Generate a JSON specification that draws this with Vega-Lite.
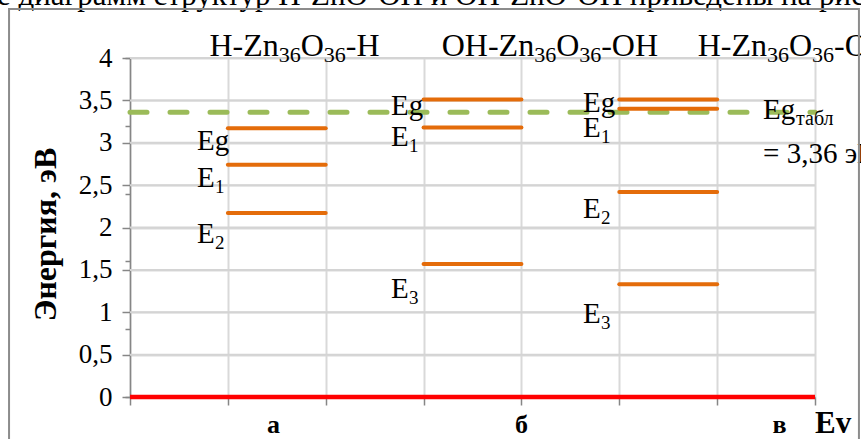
{
  "$schema": "https://vega.github.io/schema/vega-lite/v6.json",
  "width": 685,
  "height": 339,
  "autosize": {"type": "none"},
  "padding": {"left": 130, "top": 58, "right": 46, "bottom": 42},
  "background": "white",
  "config": {
    "view": {"stroke": null},
    "font": "Liberation Serif",
    "text": {"font": "Liberation Serif", "color": "black"}
  },
  "datasets": {
    "gridValues": [
      {"from": 0, "to": 7, "g": 0.5},
      {"from": 0, "to": 7, "g": 1},
      {"from": 0, "to": 7, "g": 1.5},
      {"from": 0, "to": 7, "g": 2},
      {"from": 0, "to": 7, "g": 2.5},
      {"from": 0, "to": 7, "g": 3},
      {"from": 0, "to": 7, "g": 3.5},
      {"from": 0, "to": 7, "g": 4}
    ],
    "levels": [
      {"sys": "а", "lvl": "Eg", "x0": 1, "x1": 2, "e": 3.17},
      {"sys": "а", "lvl": "E1", "x0": 1, "x1": 2, "e": 2.74},
      {"sys": "а", "lvl": "E2", "x0": 1, "x1": 2, "e": 2.17},
      {"sys": "б", "lvl": "Eg", "x0": 3, "x1": 4, "e": 3.51},
      {"sys": "б", "lvl": "E1", "x0": 3, "x1": 4, "e": 3.18},
      {"sys": "б", "lvl": "E3", "x0": 3, "x1": 4, "e": 1.57},
      {"sys": "в", "lvl": "Eg", "x0": 5, "x1": 6, "e": 3.51},
      {"sys": "в", "lvl": "E1", "x0": 5, "x1": 6, "e": 3.40},
      {"sys": "в", "lvl": "E2", "x0": 5, "x1": 6, "e": 2.42},
      {"sys": "в", "lvl": "E3", "x0": 5, "x1": 6, "e": 1.33}
    ],
    "levelLabels": [
      {"base": "Eg", "sub": "", "lx": 0.685, "ly": 2.914},
      {"base": "E", "sub": "1", "lx": 0.685, "ly": 2.481},
      {"base": "E", "sub": "2", "lx": 0.685, "ly": 1.814},
      {"base": "Eg", "sub": "", "lx": 2.667, "ly": 3.327},
      {"base": "E", "sub": "1", "lx": 2.667, "ly": 2.962},
      {"base": "E", "sub": "3", "lx": 2.667, "ly": 1.168},
      {"base": "Eg", "sub": "", "lx": 4.63, "ly": 3.366},
      {"base": "E", "sub": "1", "lx": 4.63, "ly": 3.071},
      {"base": "E", "sub": "2", "lx": 4.63, "ly": 2.109},
      {"base": "E", "sub": "3", "lx": 4.63, "ly": 0.87}
    ],
    "formulas": [
      {"head": "H-Zn", "tail": "-H", "fx": 1.52, "fy": 4.024},
      {"head": "OH-Zn", "tail": "-OH", "fx": 4.13, "fy": 4.024},
      {"head": "H-Zn", "tail": "-OH", "fx": 6.51, "fy": 4.024}
    ],
    "categories": [
      {"cat": "а", "cx": 1.467},
      {"cat": "б", "cx": 4.0},
      {"cat": "в", "cx": 6.637}
    ],
    "reference": [
      {"name": "Eg", "sub": "табл", "value": 3.36, "note": "= 3,36 эВ", "rx": 6.469, "ry": 3.28, "ny": 2.761}
    ]
  },
  "resolve": {"axis": {"y": "independent"}},
  "layer": [
    {
      "data": {"name": "gridValues"},
      "mark": {"type": "rule", "color": "#d4d4d4", "strokeWidth": 2},
      "encoding": {
        "x": {
          "field": "from",
          "type": "quantitative",
          "scale": {"domain": [0, 7], "nice": false, "zero": false},
          "axis": {
            "title": null,
            "values": [0, 1, 2, 3, 4, 5, 6, 7],
            "labels": false,
            "grid": true,
            "gridColor": "#d9d9d9",
            "gridWidth": 2,
            "tickSize": 8,
            "tickColor": "#868686",
            "tickWidth": 1.5,
            "domainColor": "#868686",
            "domainWidth": 1.5
          }
        },
        "x2": {"field": "to"},
        "y": {
          "field": "g",
          "type": "quantitative",
          "scale": {"domain": [0, 4], "nice": false},
          "axis": {
            "orient": "left",
            "title": "Энергия, эВ",
            "values": [0, 0.5, 1, 1.5, 2, 2.5, 3, 3.5, 4],
            "grid": true,
            "gridColor": "#d9d9d9",
            "gridWidth": 2,
            "tickSize": 8,
            "tickColor": "#868686",
            "tickWidth": 1.5,
            "domainColor": "#868686",
            "domainWidth": 1.5,
            "labelExpr": "replace(format(datum.value, '.1~f'), '.', ',')",
            "labelFont": "Liberation Serif",
            "labelFontSize": 27,
            "labelColor": "black",
            "labelPadding": 10,
            "labelOverlap": false,
            "labelBound": false,
            "labelFlush": false,
            "titleFont": "Liberation Serif",
            "titleFontSize": 32,
            "titleFontWeight": "bold",
            "titleColor": "black",
            "titleAngle": -90,
            "titleAlign": "center",
            "titleBaseline": "alphabetic",
            "titleX": -75,
            "titleY": 176
          }
        }
      }
    },
    {
      "layer": [
        {
          "data": {"name": "reference"},
          "mark": {"type": "rule", "color": "#9BBB59", "strokeWidth": 5, "strokeDash": [17, 23], "strokeCap": "round"},
          "encoding": {
            "x": {"datum": 0, "type": "quantitative"},
            "x2": {"datum": 7},
            "y": {
              "field": "value",
              "type": "quantitative",
              "axis": {
                "orient": "left",
                "title": null,
                "values": [0, 0.1, 0.2, 0.3, 0.4, 0.5, 0.6, 0.7, 0.8, 0.9, 1, 1.1, 1.2, 1.3, 1.4, 1.5, 1.6, 1.7, 1.8, 1.9, 2, 2.1, 2.2, 2.3, 2.4, 2.5, 2.6, 2.7, 2.8, 2.9, 3, 3.1, 3.2, 3.3, 3.4, 3.5, 3.6, 3.7, 3.8, 3.9, 4],
                "labels": false,
                "grid": false,
                "domain": false,
                "tickSize": 5,
                "tickColor": "#868686",
                "tickWidth": 1.5
              }
            }
          }
        },
        {
          "data": {"name": "levels"},
          "mark": {"type": "rule", "color": "#E46C0A", "strokeWidth": 4, "strokeCap": "round"},
          "encoding": {
            "x": {"field": "x0", "type": "quantitative"},
            "x2": {"field": "x1"},
            "y": {"field": "e", "type": "quantitative"}
          }
        },
        {
          "data": {"values": [{"zero": 0}]},
          "mark": {"type": "rule", "color": "#FF0000", "strokeWidth": 4.5},
          "encoding": {
            "x": {"datum": 0, "type": "quantitative"},
            "x2": {"datum": 7},
            "y": {"field": "zero", "type": "quantitative"}
          }
        },
        {
          "data": {"name": "levelLabels"},
          "mark": {"type": "text", "align": "left", "baseline": "alphabetic", "fontSize": 29},
          "encoding": {
            "x": {"field": "lx", "type": "quantitative"},
            "y": {"field": "ly", "type": "quantitative"},
            "text": {"field": "base"}
          }
        },
        {
          "data": {"name": "levelLabels"},
          "mark": {"type": "text", "align": "left", "baseline": "alphabetic", "fontSize": 19, "dx": 18, "dy": 6},
          "encoding": {
            "x": {"field": "lx", "type": "quantitative"},
            "y": {"field": "ly", "type": "quantitative"},
            "text": {"field": "sub"}
          }
        },
        {
          "data": {"name": "formulas"},
          "mark": {"type": "text", "align": "right", "baseline": "alphabetic", "fontSize": 32},
          "encoding": {
            "x": {"field": "fx", "type": "quantitative"},
            "y": {"field": "fy", "type": "quantitative"},
            "text": {"field": "head"}
          }
        },
        {
          "data": {"name": "formulas"},
          "mark": {"type": "text", "align": "left", "baseline": "alphabetic", "fontSize": 22, "dx": 0, "dy": 6},
          "encoding": {
            "x": {"field": "fx", "type": "quantitative"},
            "y": {"field": "fy", "type": "quantitative"},
            "text": {"value": "36"}
          }
        },
        {
          "data": {"name": "formulas"},
          "mark": {"type": "text", "align": "left", "baseline": "alphabetic", "fontSize": 32, "dx": 22},
          "encoding": {
            "x": {"field": "fx", "type": "quantitative"},
            "y": {"field": "fy", "type": "quantitative"},
            "text": {"value": "O"}
          }
        },
        {
          "data": {"name": "formulas"},
          "mark": {"type": "text", "align": "left", "baseline": "alphabetic", "fontSize": 22, "dx": 45, "dy": 6},
          "encoding": {
            "x": {"field": "fx", "type": "quantitative"},
            "y": {"field": "fy", "type": "quantitative"},
            "text": {"value": "36"}
          }
        },
        {
          "data": {"name": "formulas"},
          "mark": {"type": "text", "align": "left", "baseline": "alphabetic", "fontSize": 32, "dx": 67},
          "encoding": {
            "x": {"field": "fx", "type": "quantitative"},
            "y": {"field": "fy", "type": "quantitative"},
            "text": {"field": "tail"}
          }
        },
        {
          "data": {"name": "reference"},
          "mark": {"type": "text", "align": "left", "baseline": "alphabetic", "fontSize": 29},
          "encoding": {
            "x": {"field": "rx", "type": "quantitative"},
            "y": {"field": "ry", "type": "quantitative"},
            "text": {"field": "name"}
          }
        },
        {
          "data": {"name": "reference"},
          "mark": {"type": "text", "align": "left", "baseline": "alphabetic", "fontSize": 20, "dx": 33, "dy": 6},
          "encoding": {
            "x": {"field": "rx", "type": "quantitative"},
            "y": {"field": "ry", "type": "quantitative"},
            "text": {"field": "sub"}
          }
        },
        {
          "data": {"name": "reference"},
          "mark": {"type": "text", "align": "left", "baseline": "alphabetic", "fontSize": 29},
          "encoding": {
            "x": {"field": "rx", "type": "quantitative"},
            "y": {"field": "ny", "type": "quantitative"},
            "text": {"field": "note"}
          }
        },
        {
          "data": {"name": "categories"},
          "mark": {"type": "text", "align": "center", "baseline": "alphabetic", "fontSize": 26, "fontWeight": "bold"},
          "encoding": {
            "x": {"field": "cx", "type": "quantitative"},
            "y": {"datum": -0.43, "type": "quantitative"},
            "text": {"field": "cat"}
          }
        },
        {
          "data": {"values": [{"axisName": "Ev"}]},
          "mark": {"type": "text", "align": "left", "baseline": "alphabetic", "fontSize": 31, "fontWeight": "bold"},
          "encoding": {
            "x": {"datum": 7, "type": "quantitative"},
            "y": {"datum": -0.43, "type": "quantitative"},
            "text": {"field": "axisName"}
          }
        },
        {
          "data": {"values": [{"line": "е диаграмм структур H-ZnO-OH и OH-ZnO-OH приведены на рис"}]},
          "mark": {"type": "text", "align": "left", "baseline": "alphabetic", "fontSize": 31},
          "encoding": {
            "x": {"datum": -1.36, "type": "quantitative"},
            "y": {"datum": 4.63, "type": "quantitative"},
            "text": {"field": "line"}
          }
        },
        {
          "data": {"values": [{"frame": 1}]},
          "mark": {"type": "rect", "filled": false, "stroke": "#8c8c8c", "strokeWidth": 2},
          "encoding": {
            "x": {"datum": -1.236, "type": "quantitative"},
            "x2": {"datum": 7.449},
            "y": {"datum": 4.578, "type": "quantitative"},
            "y2": {"datum": -0.6}
          }
        }
      ]
    }
  ]
}
